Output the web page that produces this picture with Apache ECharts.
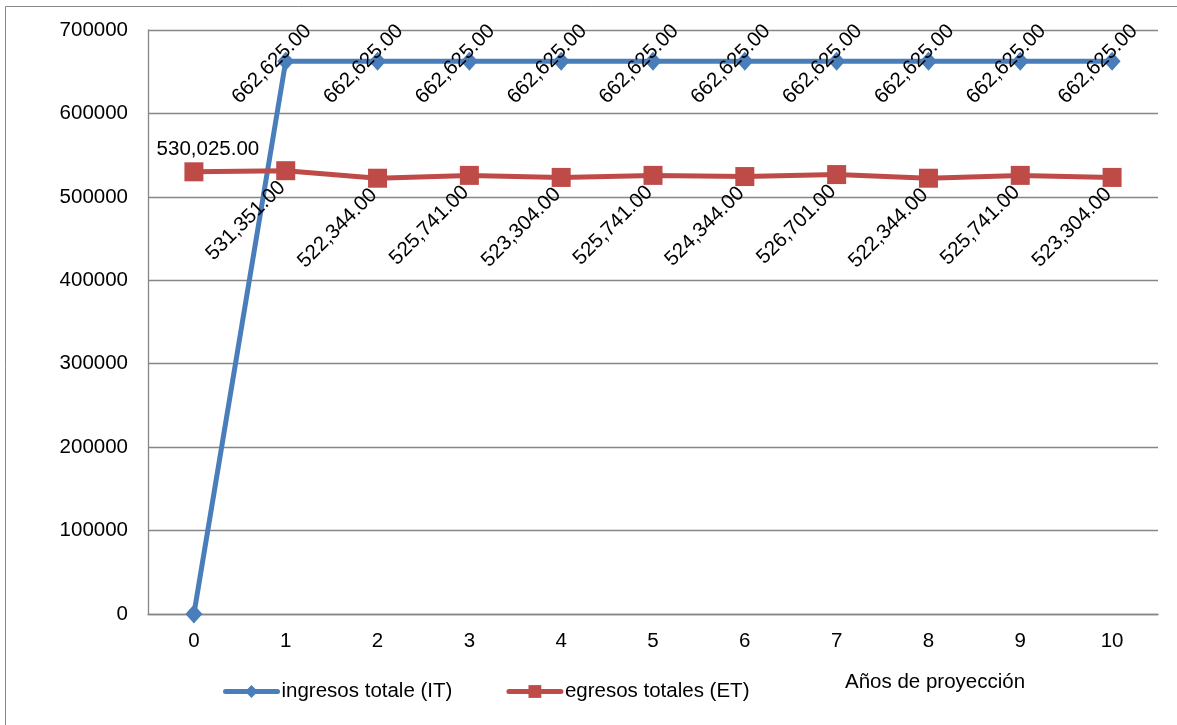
<!DOCTYPE html>
<html><head><meta charset="utf-8">
<script src="https://cdn.jsdelivr.net/npm/echarts@6/dist/echarts.min.js"></script>
<style>html,body{margin:0;padding:0;background:#fff}#c{width:1177px;height:725px}</style>
</head><body><div id="c"></div>
<script>
const categories = ['0','1','2','3','4','5','6','7','8','9','10'];
const ingresos = [0, 662625, 662625, 662625, 662625, 662625, 662625, 662625, 662625, 662625, 662625];
const egresos = [530025, 531351, 522344, 525741, 523304, 525741, 524344, 526701, 522344, 525741, 523304];
const yTicks = [0, 100000, 200000, 300000, 400000, 500000, 600000, 700000];
const seriesNames = ['ingresos totale (IT)', 'egresos totales (ET)'];
const xAxisTitle = 'Años de proyección';

const FONT = 'Liberation Sans';
const FS = 20.5;
const BLUE = '#4A7EBB', RED = '#BE4B48';
function fmt(v){ return v.toLocaleString('en-US',{minimumFractionDigits:2,maximumFractionDigits:2}); }
// convert screen offset to label-local offset for a 45deg rotated label
function rotOff(sx, sy){ const c = Math.SQRT1_2; return [sx*c - sy*c, sx*c + sy*c]; }

const chart = echarts.init(document.getElementById('c'), null, {renderer:'canvas'});
const blueData = ingresos.map((v,i)=> i===0 ? {value:v, label:{show:false}} : v);
const redData = egresos.map((v,i)=> i===0 ? {value:v, label:{rotate:0, offset:[14,-22]}} : v);
chart.setOption({
  animation:false,
  backgroundColor:'#fff',
  textStyle:{fontFamily:FONT},
  graphic:[
    {type:'rect', shape:{x:5.5,y:6.5,width:1190,height:740}, style:{fill:'none', stroke:'#888', lineWidth:1}, silent:true},
    {type:'text', left:845, top:672, style:{text:xAxisTitle, font: FS+'px "'+FONT+'"', fill:'#000'}}
  ],
  grid:{left:148, right:19, top:30, bottom:111, containLabel:false},
  legend:{
    left:218, top:676, itemWidth:52, itemHeight:16, itemGap:54,
    textStyle:{fontFamily:FONT, fontSize:FS, color:'#000', padding:[0,0,0,-1]},
    data:[
      {name:seriesNames[0], itemStyle:{color:BLUE}, lineStyle:{color:BLUE, width:5, cap:'round'}},
      {name:seriesNames[1], itemStyle:{color:RED}, lineStyle:{color:RED, width:5, cap:'round'}}
    ]
  },
  xAxis:{
    type:'category', data:categories, boundaryGap:true,
    axisLine:{show:true, lineStyle:{color:'#868686', width:1.3}},
    axisTick:{show:false},
    axisLabel:{fontFamily:FONT, fontSize:FS, color:'#000', margin:17}
  },
  yAxis:{
    type:'value', min:yTicks[0], max:yTicks[yTicks.length-1], interval:100000,
    axisLine:{show:true, lineStyle:{color:'#868686', width:1.3}},
    axisTick:{show:false},
    splitLine:{show:true, lineStyle:{color:'#868686', width:1.3}},
    axisLabel:{fontFamily:FONT, fontSize:FS, color:'#000', margin:20, formatter:v=>String(v)}
  },
  series:[
    {
      name:seriesNames[0], type:'line', data:blueData,
      symbol:'diamond', symbolSize:[17,19],
      itemStyle:{color:BLUE},
      lineStyle:{color:BLUE, width:5},
      label:{show:true, position:'inside', rotate:45, offset:rotOff(-14,3),
        fontFamily:FONT, fontSize:FS, color:'#000', formatter:p=>fmt(p.value)},
      z:2
    },
    {
      name:seriesNames[1], type:'line', data:redData,
      symbol:'rect', symbolSize:19,
      itemStyle:{color:RED},
      lineStyle:{color:RED, width:5},
      label:{show:true, position:'inside', rotate:45, offset:rotOff(-40,50),
        fontFamily:FONT, fontSize:FS, color:'#000', formatter:p=>fmt(p.value)},
      z:3
    }
  ]
});
</script></body></html>
